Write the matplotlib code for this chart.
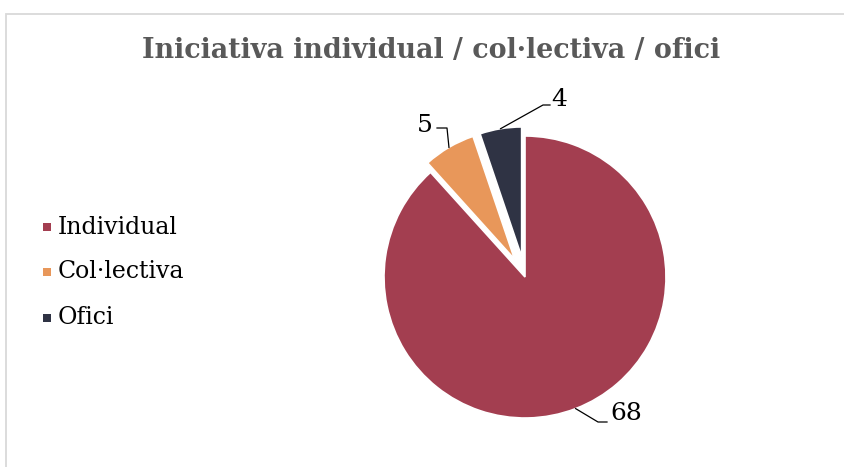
import matplotlib.pyplot as plt
import numpy as np
from matplotlib.patches import Rectangle

categories = ["Individual", "Col·lectiva", "Ofici"]
values = [68, 5, 4]
colors = ["#A33E50", "#E8975A", "#2F3344"]
explode = [0.0, 0.146, 0.146]
radii = [1.0, 0.92, 0.92]
title = "Iniciativa individual / col·lectiva / ofici"

W, H = 845, 467
fig = plt.figure(figsize=(W / 100, H / 100), dpi=100)
fig.patch.set_facecolor("white")
SERIF = ["DejaVu Serif"]

# outer chart frame (cropped at right/bottom)
fig.patches.append(Rectangle((6 / W, -0.1), 1.2, 1.1 - 14 / H, transform=fig.transFigure,
                             fill=False, edgecolor="#D9D9D9", linewidth=1.3))

fig.text(431 / W, 1 - 50 / H, title, ha="center", va="center", fontsize=19.4,
         fontweight="bold", color="#595959", family=SERIF)

ax = fig.add_axes([0, 0, 1, 1])
R = 141.0
cx, cy = 525.0, H - 277.0

wedges, _ = ax.pie(values, colors=colors, startangle=90, counterclock=False,
                   explode=explode, wedgeprops=dict(edgecolor="white", linewidth=1.2))
for w, r in zip(wedges, radii):
    w.set_radius(r)
ax.set_aspect("auto")
ax.set_xlim(-cx / R, (W - cx) / R)
ax.set_ylim(-cy / R, (H - cy) / R)
ax.axis("off")


def px(x, y):
    return ((x - cx) / R, ((H - y) - cy) / R)


# data labels: (elbow point, text end point, text position, ha) in pixels
label_layout = [
    ((598, 422), (607, 422), (610, 413), "left"),
    ((447, 128), (437, 128), (433, 125), "right"),
    ((543, 105), (550, 105), (551, 100), "left"),
]
for w, v, (elb, tend, tpos, ha) in zip(wedges, values, label_layout):
    mid = np.deg2rad((w.theta1 + w.theta2) / 2)
    c = w.center
    ax_ = c[0] + w.r * np.cos(mid)
    ay_ = c[1] + w.r * np.sin(mid)
    e = px(*elb)
    t = px(*tend)
    ax.plot([ax_, e[0], t[0]], [ay_, e[1], t[1]], color="black", lw=0.9)
    tp = px(*tpos)
    ax.text(tp[0], tp[1], str(v), ha=ha, va="center", fontsize=18, family=SERIF,
            color="black")

# legend
ys = [227, 272, 318]
for name, col, y in zip(categories, colors, ys):
    fig.patches.append(Rectangle(((43) / W, 1 - (y + 4) / H), 8 / W, 8 / H,
                                 transform=fig.transFigure, facecolor=col, edgecolor="none"))
    fig.text(58 / W, 1 - y / H, name, ha="left", va="center", fontsize=17,
             family=SERIF, color="black")

fig.savefig("out.png", dpi=100, facecolor="white")
